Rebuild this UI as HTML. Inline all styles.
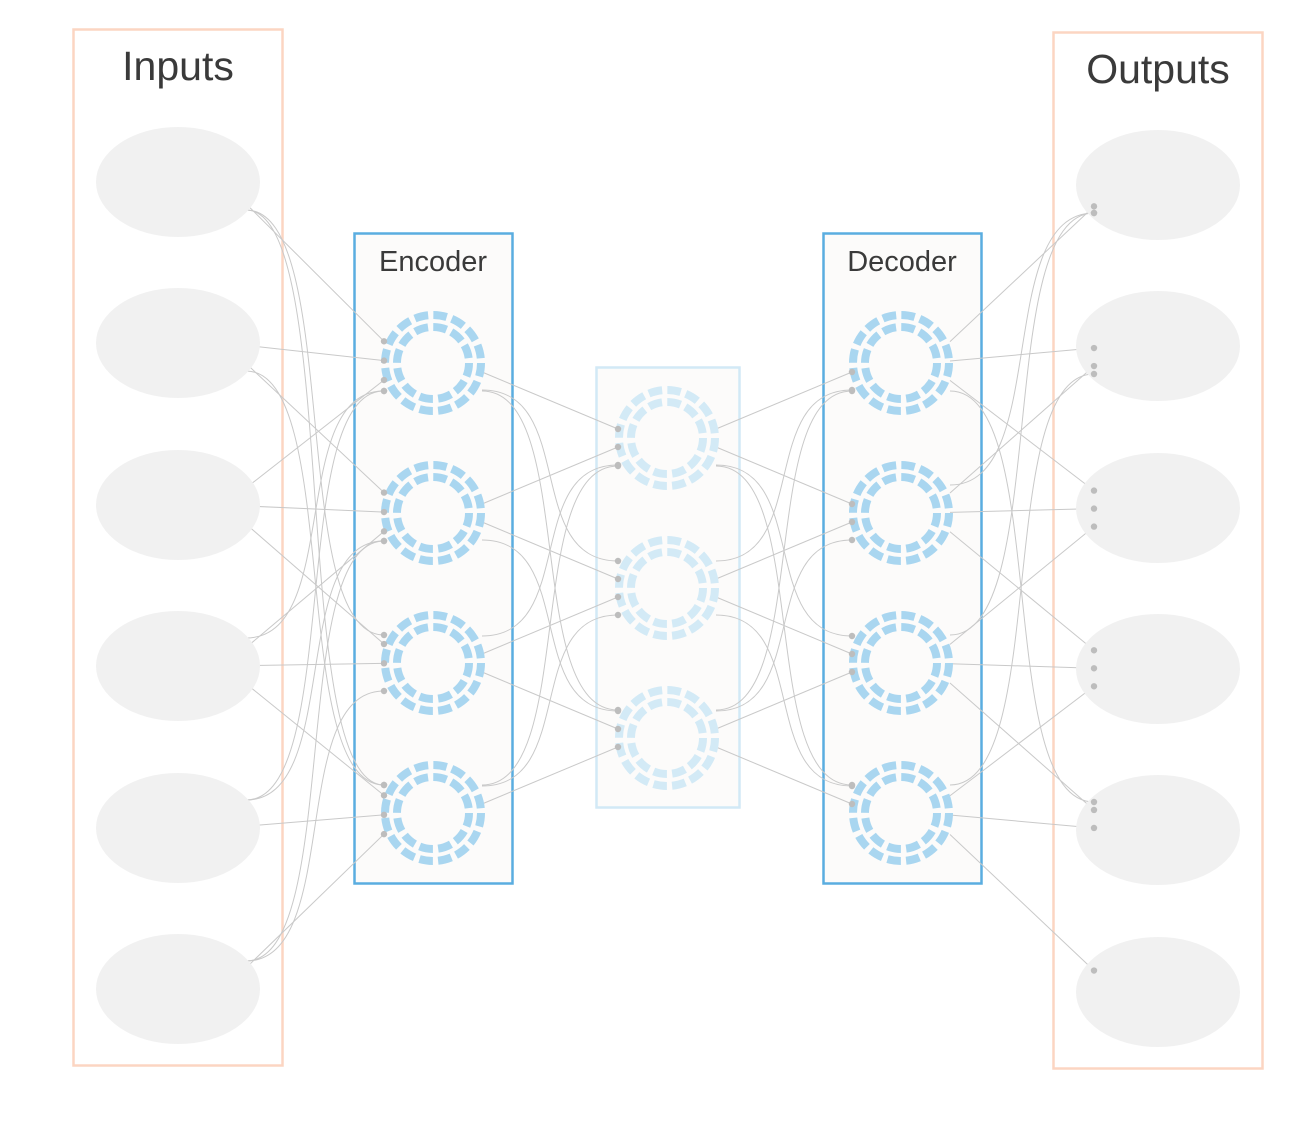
<!DOCTYPE html>
<html><head><meta charset="utf-8"><style>
html,body{margin:0;padding:0;background:#fff;}
svg{display:block;font-family:"Liberation Sans",sans-serif;}
</style></head><body>
<svg id="chart" width="1314" height="1128" viewBox="0 0 1314 1128">
  <rect x="73.5" y="29.5" width="209" height="1036" fill="none" stroke="#fcd5c2" stroke-width="2.5"/>
  <text x="178" y="80" text-anchor="middle" font-size="41" fill="#3a3a3a">Inputs</text>
  <rect x="1053.5" y="32.5" width="209" height="1036" fill="none" stroke="#fcd5c2" stroke-width="2.5"/>
  <text x="1158" y="83" text-anchor="middle" font-size="41" fill="#3a3a3a">Outputs</text>
  <rect x="354.5" y="233.5" width="158" height="650" fill="#fcfbfa" stroke="#5aade0" stroke-width="2.5"/>
  <text x="433" y="271" text-anchor="middle" font-size="29" fill="#3a3a3a">Encoder</text>
  <rect x="596.5" y="367.5" width="143" height="440" fill="#fcfbfa" stroke="#d2e9f6" stroke-width="2.5"/>
  <rect x="823.5" y="233.5" width="158" height="650" fill="#fcfbfa" stroke="#5aade0" stroke-width="2.5"/>
  <text x="902" y="271" text-anchor="middle" font-size="29" fill="#3a3a3a">Decoder</text>
  <g id="edges"></g>
  <g id="nodes"></g>
  <g id="dots"></g>
</svg>
<script>
const inputY=[182,343,505,666,828,989];
const outputY=[185,346,508,669,830,992];
const encY=[363,513,663,813];
const latY=[438,588,738];
const decY=[363,513,663,813];
// edges: [fromLayer, fromIdx, toLayer, toIdx]
const edges=[
 ['in',0,'enc',0],['in',0,'enc',2],['in',0,'enc',3],
 ['in',1,'enc',0],['in',1,'enc',1],['in',1,'enc',3],
 ['in',2,'enc',0],['in',2,'enc',1],['in',2,'enc',2],
 ['in',3,'enc',1],['in',3,'enc',2],['in',3,'enc',3],['in',3,'enc',0],
 ['in',4,'enc',0],['in',4,'enc',1],['in',4,'enc',3],
 ['in',5,'enc',1],['in',5,'enc',2],['in',5,'enc',3],
 ['enc',0,'lat',0],['enc',0,'lat',1],['enc',0,'lat',2],
 ['enc',1,'lat',0],['enc',1,'lat',1],['enc',1,'lat',2],
 ['enc',2,'lat',0],['enc',2,'lat',1],['enc',2,'lat',2],
 ['enc',3,'lat',0],['enc',3,'lat',1],['enc',3,'lat',2],
 ['lat',0,'dec',0],['lat',0,'dec',1],['lat',0,'dec',2],['lat',0,'dec',3],
 ['lat',1,'dec',0],['lat',1,'dec',1],['lat',1,'dec',2],['lat',1,'dec',3],
 ['lat',2,'dec',0],['lat',2,'dec',1],['lat',2,'dec',2],['lat',2,'dec',3],
 ['dec',0,'out',0],['dec',0,'out',1],['dec',0,'out',2],['dec',0,'out',4],
 ['dec',1,'out',1],['dec',1,'out',2],['dec',1,'out',3],['dec',1,'out',0],
 ['dec',2,'out',0],['dec',2,'out',2],['dec',2,'out',3],['dec',2,'out',4],
 ['dec',3,'out',3],['dec',3,'out',4],['dec',3,'out',5],['dec',3,'out',1]
];
const NS='http://www.w3.org/2000/svg';
const L={
 in:{x:178,ys:inputY,right:260,left:96},
 enc:{x:433,ys:encY,right:482,left:384},
 lat:{x:667,ys:latY,right:716,left:618},
 dec:{x:901,ys:decY,right:950,left:852},
 out:{x:1158,ys:outputY,right:1240,left:1080}
};
const eg=document.getElementById('edges'),dg=document.getElementById('dots'),ng=document.getElementById('nodes');
edges.forEach((e,i)=>{
  const a=L[e[0]],b=L[e[2]];
  const y1=a.ys[e[1]],y2=b.ys[e[3]];
  const off=(y2-y1)*0.12;
  const x1=a.right-(e[0]==='in'?14:0), yy1=y1+Math.max(-28,Math.min(28,off));
  const x2=b.left+(e[2]==='out'?14:0), yy2=y2-Math.max(-28,Math.min(28,off));
  const mx=(x1+x2)/2;
  const p=document.createElementNS(NS,'path');
  
  
  const big=Math.abs(y2-y1)>200;
  const d=big?`M${x1},${yy1} C${mx+ (x2-x1)*0.2},${yy1} ${mx-(x2-x1)*0.2},${yy2} ${x2},${yy2}`:`M${x1},${yy1} L${x2},${yy2}`;
  p.setAttribute('d',d);
  p.setAttribute('fill','none');p.setAttribute('stroke','#c9c9c9');p.setAttribute('stroke-width','1');
  eg.appendChild(p);
  const c=document.createElementNS(NS,'circle');
  
  
  c.setAttribute('cx',x2);c.setAttribute('cy',yy2);c.setAttribute('r','3.2');c.setAttribute('fill','#bdbdbd');
  dg.appendChild(c);
});
inputY.forEach((y,i)=>{
  const el=document.createElementNS(NS,'ellipse');
  
  
  el.setAttribute('cx',178);el.setAttribute('cy',y);el.setAttribute('rx',82);el.setAttribute('ry',55);el.setAttribute('fill','#f1f1f1');
  ng.appendChild(el);
});
outputY.forEach((y,i)=>{
  const el=document.createElementNS(NS,'ellipse');
  
  
  el.setAttribute('cx',1158);el.setAttribute('cy',y);el.setAttribute('rx',82);el.setAttribute('ry',55);el.setAttribute('fill','#f1f1f1');
  ng.appendChild(el);
});
function ring(name,cx,cy,color){
  const g=document.createElementNS(NS,'g');
  
  
  [[48,16],[36,12]].forEach(([r,n])=>{
    const c=document.createElementNS(NS,'circle');
    const circ=2*Math.PI*r,seg=circ/n;
    c.setAttribute('cx',cx);c.setAttribute('cy',cy);c.setAttribute('r',r);
    c.setAttribute('fill','none');c.setAttribute('stroke',color);c.setAttribute('stroke-width','8');
    c.setAttribute('stroke-dasharray',(seg*0.72)+' '+(seg*0.28));
    g.appendChild(c);
  });
  ng.appendChild(g);
}
encY.forEach((y,i)=>ring('encoder-node-'+(i+1),433,y,'#a9d6f0'));
latY.forEach((y,i)=>ring('latent-node-'+(i+1),667,y,'#d3eaf6'));
decY.forEach((y,i)=>ring('decoder-node-'+(i+1),901,y,'#a9d6f0'));
</script>
</body></html>
